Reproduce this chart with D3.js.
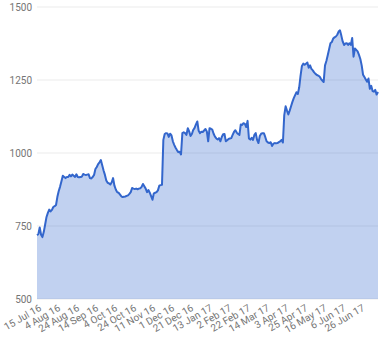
<!DOCTYPE html>
<html>
<head>
<meta charset="utf-8">
<script src="https://cdn.jsdelivr.net/npm/d3@7"></script>
<style>
  body { margin: 0; background: #fff; }
  svg { display: block; font-family: Roboto, Arial, sans-serif; }
</style>
</head>
<body>
<svg id="chart"></svg>
<script>
const width = 380;
const height = 360;

// daily closes, 15 Jul 16 .. 14 Jul 17 (252 trading days)
const values = [
  719, 722, 745, 720, 712, 730, 755, 781, 795, 806,
  800, 805, 815, 818, 822, 850, 870, 885, 903, 922,
  918, 914, 918, 918, 925, 920, 926, 922, 918, 927,
  918, 917, 918, 919, 928, 926, 925, 926, 927, 914,
  913, 918, 925, 945, 952, 962, 968, 976, 958, 940,
  925, 906, 898, 896, 892, 900, 914, 888, 875, 866,
  864, 858, 852, 849, 850, 851, 853, 855, 860, 866,
  880, 878, 877, 878, 876, 878, 879, 884, 894, 886,
  878, 866, 873, 864, 852, 840, 862, 864, 866, 872,
  888, 890, 891, 1045, 1065, 1068, 1067, 1055, 1066, 1060,
  1040, 1028, 1018, 1010, 1003, 1004, 995, 1068, 1071, 1068,
  1062, 1085, 1074, 1058, 1065, 1079, 1086, 1098, 1108, 1076,
  1068, 1073, 1072, 1077, 1082, 1074, 1040, 1085, 1083, 1080,
  1066, 1056, 1050, 1046, 1051, 1040, 1055, 1064, 1065, 1040,
  1044, 1048, 1050, 1051, 1062, 1072, 1078, 1070, 1065, 1062,
  1098, 1096, 1102, 1100, 1089, 1110, 1050, 1046, 1052, 1045,
  1062, 1068, 1045, 1034, 1058, 1066, 1068, 1068, 1055, 1040,
  1036, 1034, 1037, 1024, 1032, 1034, 1033, 1034, 1037, 1040,
  1045, 1036, 1130, 1160, 1145, 1132, 1145, 1160, 1175, 1188,
  1198, 1208, 1202, 1225, 1265, 1298, 1306, 1302, 1306, 1310,
  1292, 1300, 1288, 1283, 1276, 1271, 1267, 1265, 1262, 1254,
  1248, 1243, 1300, 1315, 1335, 1355, 1376, 1380, 1392, 1396,
  1399, 1405, 1416, 1420, 1402, 1382, 1370, 1375, 1376, 1370,
  1376, 1370, 1394, 1330, 1358, 1353, 1348, 1336, 1322, 1300,
  1268, 1260, 1252, 1244, 1255, 1220, 1230, 1212, 1210, 1216,
  1200, 1209
];

// one label every 14 trading days
const tickLabels = [
  "15 Jul 16", "4 Aug 16", "24 Aug 16", "14 Sep 16", "4 Oct 16", "24 Oct 16",
  "11 Nov 16", "1 Dec 16", "21 Dec 16", "13 Jan 17", "2 Feb 17", "22 Feb 17",
  "14 Mar 17", "3 Apr 17", "25 Apr 17", "16 May 17", "6 Jun 17", "26 Jun 17"
];
const tickStep = 14;
const yTicks = [500, 750, 1000, 1250, 1500];

const margin = { top: 7, right: 2, bottom: 61, left: 37 };

const svg = d3.select("#chart")
  .attr("width", width)
  .attr("height", height);

const x = d3.scaleLinear()
  .domain([0, values.length - 1])
  .range([margin.left, width - margin.right]);

const y = d3.scaleLinear()
  .domain([500, 1500])
  .range([height - margin.bottom, margin.top]);

// gridlines
svg.append("g")
  .selectAll("line")
  .data(yTicks)
  .join("line")
  .attr("x1", margin.left)
  .attr("x2", width - margin.right)
  .attr("y1", d => y(d))
  .attr("y2", d => y(d))
  .attr("stroke", "#ebebeb")
  .attr("stroke-width", 1);

// y labels
svg.append("g")
  .selectAll("text")
  .data(yTicks)
  .join("text")
  .attr("x", margin.left - 5)
  .attr("y", d => y(d))
  .attr("dy", "0.35em")
  .attr("text-anchor", "end")
  .attr("font-size", 10)
  .attr("fill", "#757575")
  .text(d => d);

const area = d3.area()
  .x((d, i) => x(i))
  .y0(y(500))
  .y1(d => y(d));

const line = d3.line()
  .x((d, i) => x(i))
  .y(d => y(d));

svg.append("path")
  .datum(values)
  .attr("d", area)
  .attr("fill", "#3366cc")
  .attr("fill-opacity", 0.3);

svg.append("path")
  .datum(values)
  .attr("d", line)
  .attr("fill", "none")
  .attr("stroke", "#3366cc")
  .attr("stroke-width", 2)
  .attr("stroke-linejoin", "round");

// slanted x labels
svg.append("g")
  .selectAll("text")
  .data(tickLabels)
  .join("text")
  .attr("transform", (d, i) => `translate(${x(i * tickStep) + 5},${height - margin.bottom + 11}) rotate(-30)`)
  .attr("text-anchor", "end")
  .attr("font-size", 10)
  .attr("fill", "#757575")
  .text(d => d);
</script>
</body>
</html>
